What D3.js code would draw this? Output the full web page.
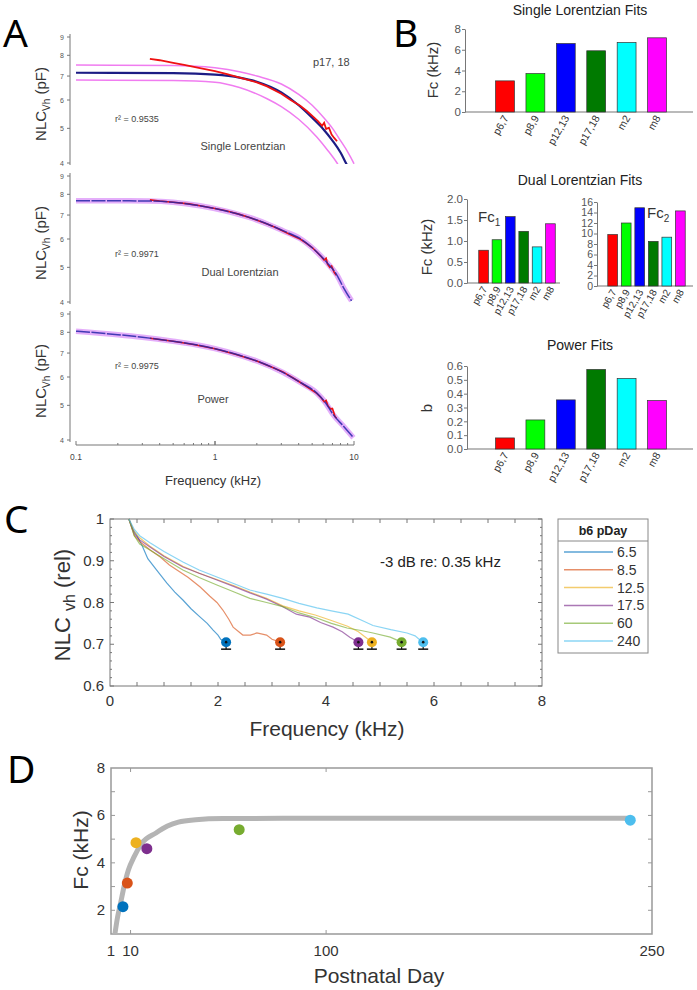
<!DOCTYPE html>
<html>
<head>
<meta charset="utf-8">
<script src="https://cdn.jsdelivr.net/npm/d3@7"></script>
<style>
body { margin: 0; background: #fff; }
svg { display: block; font-family: "Liberation Sans", Arial, sans-serif; }
</style>
</head>
<body>
<svg id="fig"></svg>
<script>
// ---------- Panel A: NLC (pF) vs frequency (kHz), p17,18 ----------
const aSingleFit = [[0.1,7.15],[0.5,7.13],[1,7.06],[1.5,6.93],[2,6.75],[3,6.3],[4,5.8],[5,5.35],[6,4.98],[7,4.62],[8,4.28],[8.75,4.0],[9.2,3.85]];
const aSingleUpper = [[0.1,7.51],[0.5,7.49],[1,7.38],[1.5,7.2],[2,7.0],[3,6.65],[4,6.22],[5,5.8],[6,5.38],[7,5.0],[8,4.62],[9,4.3],[9.85,4.03],[10,3.98]];
const aSingleLower = [[0.1,6.82],[0.5,6.8],[1,6.73],[1.5,6.5],[2.37,6.05],[3,5.75],[4,5.3],[5.4,4.73],[6.5,4.33],[7.55,4.0],[7.8,3.92]];
const aSingleData = [[0.34,7.82],[0.4,7.75],[0.5,7.62],[0.6,7.52],[0.78,7.37],[1,7.22],[1.22,7.09],[1.6,6.88],[2,6.72],[2.37,6.55],[3,6.25],[3.5,6.0],[4.1,5.78],[4.6,5.58],[5.1,5.38],[5.5,5.24],[5.9,5.08],[6.1,5.18],[6.3,4.98],[6.6,5.02],[6.9,4.8],[7.2,4.7],[7.55,4.6]];
const aDualFit = [[0.1,7.67],[0.2,7.67],[0.34,7.66],[0.5,7.6],[0.78,7.43],[1.2,7.18],[1.79,6.88],[2.4,6.6],[3.08,6.33],[4.09,6.02],[5.4,5.52],[6.4,5.15],[7.55,4.75],[8.5,4.35],[9.6,4.03]];
const aDualData = [[0.34,7.72],[0.4,7.66],[0.5,7.6],[0.65,7.52],[0.78,7.43],[1,7.3],[1.2,7.2],[1.5,7.03],[1.79,6.88],[2.1,6.73],[2.4,6.6],[2.7,6.47],[3.08,6.32],[3.5,6.17],[4.09,6.0],[4.5,5.85],[5,5.68],[5.4,5.52],[5.8,5.36],[6.1,5.24],[6.3,5.3],[6.45,5.1],[6.7,5.0],[6.9,5.04],[7.2,4.84],[7.45,4.75]];
const aPowerFit = [[0.1,8.06],[0.2,7.88],[0.3,7.75],[0.5,7.55],[0.78,7.35],[1,7.2],[1.5,6.9],[2,6.65],[3.08,6.18],[4.09,5.8],[5.4,5.41],[6.2,5.1],[7.06,4.72],[8.5,4.35],[9.9,4.06]];
const aPowerData = [[0.34,7.7],[0.5,7.55],[0.7,7.4],[1,7.2],[1.4,6.95],[2,6.65],[2.6,6.38],[3.08,6.2],[3.6,5.98],[4.09,5.8],[4.7,5.6],[5.4,5.4],[5.8,5.25],[6.1,5.12],[6.3,5.16],[6.5,4.98],[6.8,4.88],[7.0,4.9],[7.3,4.65],[7.5,4.6]];
const aYTicks = [4, 5, 6, 7, 8, 9];
const aXTicks = [0.1, 1, 10];

// ---------- Panel B: fit parameters per age group ----------
const groups = ["p6,7", "p8,9", "p12,13", "p17,18", "m2", "m8"];
const groupColors = ["#ff0000", "#00ff00", "#0000ff", "#007a00", "#00ffff", "#ff00ff"];
const singleFc = [3.0, 3.7, 6.6, 5.9, 6.7, 7.15];
const dualFc1 = [0.78, 1.03, 1.58, 1.23, 0.86, 1.41];
const dualFc2 = [9.8, 12.0, 14.9, 8.5, 9.3, 14.3];
const powerB = [0.08, 0.21, 0.355, 0.575, 0.51, 0.35];

// ---------- Panel C: normalised NLC vs frequency by postnatal day ----------
const pDays = ["6.5", "8.5", "12.5", "17.5", "60", "240"];
const dayColors = ["#0072BD", "#D95319", "#EDB120", "#7E2F8E", "#77AC30", "#4DBEEE"];
const curve65 = [[0.35,1],[0.42,0.975],[0.5,0.96],[0.6,0.935],[0.7,0.905],[0.85,0.88],[1.05,0.847],[1.2,0.825],[1.35,0.806],[1.5,0.785],[1.67,0.765],[1.8,0.75],[1.91,0.734],[2.0,0.722],[2.05,0.712],[2.1,0.708],[2.15,0.705]];
const curve85 = [[0.35,1],[0.45,0.96],[0.56,0.945],[0.75,0.925],[0.93,0.909],[1.1,0.89],[1.24,0.878],[1.45,0.86],[1.67,0.837],[1.85,0.815],[1.98,0.8],[2.09,0.782],[2.2,0.76],[2.28,0.741],[2.46,0.722],[2.6,0.722],[2.72,0.727],[2.9,0.722],[3.0,0.712],[3.15,0.705]];
const curve125 = [[0.35,1],[0.45,0.97],[0.55,0.955],[0.74,0.935],[1.0,0.912],[1.35,0.887],[1.65,0.87],[1.98,0.855],[2.3,0.84],[2.59,0.825],[2.9,0.81],[3.2,0.792],[3.5,0.78],[3.8,0.77],[4.1,0.757],[4.4,0.743],[4.6,0.73],[4.75,0.715],[4.85,0.705]];
const curve175 = [[0.35,1],[0.45,0.965],[0.55,0.95],[0.74,0.933],[1.0,0.91],[1.35,0.885],[1.65,0.87],[1.98,0.854],[2.3,0.838],[2.59,0.823],[2.9,0.808],[3.2,0.79],[3.45,0.772],[3.7,0.765],[3.9,0.752],[4.13,0.741],[4.3,0.73],[4.44,0.717],[4.6,0.705]];
const curve60 = [[0.35,1],[0.45,0.96],[0.55,0.94],[0.74,0.926],[1.0,0.905],[1.35,0.878],[1.65,0.86],[1.98,0.842],[2.3,0.825],[2.59,0.81],[2.9,0.8],[3.2,0.79],[3.5,0.775],[3.83,0.763],[4.1,0.75],[4.39,0.739],[4.65,0.733],[4.87,0.727],[5.19,0.717],[5.4,0.705]];
const curve240 = [[0.35,1],[0.45,0.975],[0.55,0.96],[0.74,0.943],[1.0,0.922],[1.35,0.897],[1.65,0.878],[1.98,0.861],[2.3,0.845],[2.59,0.83],[2.9,0.82],[3.2,0.81],[3.5,0.798],[3.83,0.787],[4.1,0.78],[4.41,0.772],[4.7,0.755],[4.87,0.745],[5.2,0.735],[5.5,0.727],[5.65,0.72],[5.74,0.71],[5.8,0.705]];
const dayCurves = [curve65, curve85, curve125, curve175, curve60, curve240];
const cutoffFc = [2.15, 3.15, 4.85, 4.6, 5.4, 5.8];
const cutoffLevel = 0.705;
const cXTicks = [0, 2, 4, 6, 8];
const cYTicks = [0.6, 0.7, 0.8, 0.9, 1];

// ---------- Panel D: cutoff vs postnatal day ----------
const dayValues = [6.5, 8.5, 12.5, 17.5, 60, 240];
const fitDays = [2.8, 4, 5.4, 7, 9, 11.6, 15, 21.7, 27, 32, 40, 52.6, 80, 150, 240];
const fitFc = [1.0, 1.7, 2.3, 3.0, 3.7, 4.25, 4.8, 5.26, 5.55, 5.72, 5.82, 5.87, 5.88, 5.88, 5.88];
const dXTicks = [1, 10, 100, 250];
const dYTicks = [2, 4, 6, 8];

const svg = d3.select("#fig").attr("width", 697).attr("height", 990);
svg.append("rect").attr("width", 697).attr("height", 990).attr("fill", "#fff");

function panelLetter(txt, x, y) {
    svg.append("text").attr("x", x).attr("y", y).text(txt)
        .attr("font-family", "'Noto Sans', sans-serif")
        .attr("font-size", 39).attr("fill", "#000");
}
panelLetter("A", 3, 47);
panelLetter("B", 393, 47);
panelLetter("C", 4, 533);
panelLetter("D", 7, 783);

// ================= Panel A =================
const xA = d3.scaleLog().domain([0.1, 10]).range([76, 354]);
const aPanels = [
    {top: 37, bottom: 163, r2: "0.9535", r2y: 122, name: "Single Lorentzian", nx: 243, ny: 150, kind: "single"},
    {top: 176, bottom: 302, r2: "0.9971", r2y: 257, name: "Dual Lorentzian", nx: 240, ny: 276, kind: "dual"},
    {top: 314, bottom: 440, r2: "0.9975", r2y: 369, name: "Power", nx: 213, ny: 403, kind: "power"}
];

aPanels.forEach((p, i) => {
    const y = d3.scaleLog().domain([4, 9]).range([p.bottom, p.top]);
    const g = svg.append("g");
    const clipId = "clipA" + i;
    svg.append("clipPath").attr("id", clipId).append("rect")
        .attr("x", 71).attr("y", p.top - 5).attr("width", 290).attr("height", p.bottom - p.top + 6);

    // y axis
    g.append("line").attr("x1", 70).attr("x2", 70).attr("y1", p.top - 3).attr("y2", p.bottom + 2)
        .attr("stroke", "#777").attr("stroke-width", 1);
    aYTicks.forEach(t => {
        g.append("line").attr("x1", 67).attr("x2", 70).attr("y1", y(t)).attr("y2", y(t)).attr("stroke", "#777");
        g.append("text").attr("x", 64).attr("y", y(t) + 2.5).attr("text-anchor", "end")
            .attr("font-size", 7).attr("fill", "#555").text(t);
    });

    const line = d3.line().x(d => xA(d[0])).y(d => y(d[1])).curve(d3.curveMonotoneX);
    const raw = d3.line().x(d => xA(d[0])).y(d => y(d[1]));
    const plot = g.append("g").attr("clip-path", `url(#${clipId})`);

    if (p.kind === "single") {
        [aSingleUpper, aSingleLower].forEach(s => plot.append("path").attr("d", line(s))
            .attr("fill", "none").attr("stroke", "#f07cf0").attr("stroke-width", 1.5));
        plot.append("path").attr("d", line(aSingleFit)).attr("fill", "none")
            .attr("stroke", "#1c1c84").attr("stroke-width", 2.2);
        plot.append("path").attr("d", raw(aSingleData)).attr("fill", "none")
            .attr("stroke", "#ee1111").attr("stroke-width", 1.8);
    } else {
        const fit = p.kind === "dual" ? aDualFit : aPowerFit;
        const dat = p.kind === "dual" ? aDualData : aPowerData;
        plot.append("path").attr("d", line(fit)).attr("fill", "none")
            .attr("stroke", "#d88cf8").attr("stroke-width", 5.5).attr("stroke-opacity", 0.7);
        plot.append("path").attr("d", raw(dat)).attr("fill", "none")
            .attr("stroke", "#ee1111").attr("stroke-width", 1.6);
        plot.append("path").attr("d", line(fit)).attr("fill", "none")
            .attr("stroke", "#2626a8").attr("stroke-width", 1.5).attr("stroke-opacity", 0.85)
            .attr("stroke-dasharray", "14,1.5");
    }

    g.append("text").attr("x", 115).attr("y", p.r2y).attr("font-size", 9).attr("fill", "#444")
        .text("r² = " + p.r2);
    g.append("text").attr("x", p.nx).attr("y", p.ny).attr("text-anchor", "middle")
        .attr("font-size", 11).attr("fill", "#444").text(p.name);

    // y label NLC_Vh (pF)
    const yl = g.append("text").attr("transform", `translate(46,${(p.top + p.bottom) / 2 + 4}) rotate(-90)`)
        .attr("text-anchor", "middle").attr("font-size", 15).attr("fill", "#333");
    yl.append("tspan").text("NLC");
    yl.append("tspan").attr("font-size", 10).attr("dy", 4).text("Vh");
    yl.append("tspan").attr("dy", -4).text(" (pF)");
});
svg.append("text").attr("x", 313).attr("y", 66).attr("font-size", 11).attr("fill", "#444").text("p17, 18");

// A x axis (bottom subplot)
const xAxisA = svg.append("g");
xAxisA.append("line").attr("x1", 76).attr("x2", 354).attr("y1", 445).attr("y2", 445).attr("stroke", "#777");
[0.1, 1].forEach(dec => {
    for (let k = 1; k <= 10; k++) {
        const v = dec * k;
        xAxisA.append("line").attr("x1", xA(v)).attr("x2", xA(v)).attr("y1", 445)
            .attr("y2", k === 1 || k === 10 ? 441 : 443).attr("stroke", "#777");
    }
});
aXTicks.forEach(t => xAxisA.append("text").attr("x", xA(t)).attr("y", 460).attr("text-anchor", "middle")
    .attr("font-size", 8.5).attr("fill", "#444").text(t));
svg.append("text").attr("x", 213).attr("y", 485).attr("text-anchor", "middle")
    .attr("font-size", 13).attr("fill", "#333").text("Frequency (kHz)");

// ================= Panel B =================
function barChart(opt) {
    const g = svg.append("g");
    const y = d3.scaleLinear().domain([0, opt.max]).range([opt.y0, opt.yTop]);
    const x = d3.scaleBand().domain(groups).range([opt.xa, opt.xb]).padding(opt.pad);

    const yAxis = d3.axisLeft(y).tickValues(opt.ticks).tickSize(3).tickSizeOuter(0).tickFormat(opt.fmt);
    const ya = g.append("g").attr("transform", `translate(${opt.axisX},0)`).call(yAxis);
    ya.select(".domain").attr("stroke", "#777");
    ya.selectAll(".tick line").attr("stroke", "#777");
    ya.selectAll(".tick text").attr("font-size", opt.tickFont).attr("fill", "#555")
        .attr("font-family", "'Liberation Sans', Arial, sans-serif").attr("x", -4);

    g.append("line").attr("x1", opt.axisX).attr("x2", opt.xEnd).attr("y1", opt.y0).attr("y2", opt.y0)
        .attr("stroke", "#777").attr("stroke-width", 1.2);

    g.selectAll("rect.bar").data(opt.values).join("rect").attr("class", "bar")
        .attr("x", (d, i) => x(groups[i]))
        .attr("width", x.bandwidth())
        .attr("y", d => y(d))
        .attr("height", d => opt.y0 - y(d))
        .attr("fill", (d, i) => groupColors[i])
        .attr("stroke", "#333").attr("stroke-width", 0.7);

    groups.forEach(gr => {
        g.append("text")
            .attr("transform", `translate(${x(gr) + x.bandwidth() / 2 + 4},${opt.y0 + 6}) rotate(-60)`)
            .attr("text-anchor", "end").attr("font-size", opt.labFont).attr("fill", "#333")
            .text(gr);
    });
    return g;
}

function bTitle(txt, x, y) {
    svg.append("text").attr("x", x).attr("y", y).attr("text-anchor", "middle")
        .attr("font-size", 14).attr("fill", "#222").text(txt);
}
function bYLabel(x, y, main) {
    svg.append("text").attr("transform", `translate(${x},${y}) rotate(-90)`)
        .attr("text-anchor", "middle").attr("font-size", 15).attr("fill", "#333").text(main);
}

bTitle("Single Lorentzian Fits", 580, 15);
barChart({values: singleFc, max: 8, ticks: [0, 2, 4, 6, 8], fmt: d3.format("d"), tickFont: 11.5, labFont: 10.5,
    axisX: 465, y0: 112, yTop: 29, xa: 484, xb: 678, pad: 0.38, xEnd: 693});
bYLabel(438, 70, "Fc (kHz)");

bTitle("Dual Lorentzian Fits", 580, 185);
barChart({values: dualFc1, max: 2, ticks: [0, 0.5, 1, 1.5, 2], fmt: d3.format(".1f"), tickFont: 11.5, labFont: 10,
    axisX: 467, y0: 283, yTop: 199, xa: 475, xb: 559, pad: 0.28, xEnd: 560});
barChart({values: dualFc2, max: 16, ticks: [0, 2, 4, 6, 8, 10, 12, 14, 16], fmt: d3.format("d"), tickFont: 10.5, labFont: 10,
    axisX: 597, y0: 286, yTop: 202, xa: 604, xb: 689, pad: 0.28, xEnd: 693});
bYLabel(432, 247, "Fc (kHz)");
function fcSub(x, y, n) {
    const t = svg.append("text").attr("x", x).attr("y", y).attr("font-size", 15).attr("fill", "#333");
    t.append("tspan").text("Fc");
    t.append("tspan").attr("font-size", 10).attr("dy", 4).text(n);
}
fcSub(478, 222, "1");
fcSub(647, 218, "2");

bTitle("Power Fits", 580, 350);
barChart({values: powerB, max: 0.6, ticks: [0, 0.1, 0.2, 0.3, 0.4, 0.5, 0.6], fmt: d3.format(".1f"), tickFont: 11.5, labFont: 10.5,
    axisX: 467, y0: 449, yTop: 366, xa: 484, xb: 678, pad: 0.38, xEnd: 693});
bYLabel(432, 408, "b");

// ================= Panel C =================
const xC = d3.scaleLinear().domain([0, 8]).range([110, 542]);
const yC = d3.scaleLinear().domain([0.6, 1]).range([686, 519]);
const gC = svg.append("g");
gC.append("rect").attr("x", 110).attr("y", 519).attr("width", 432).attr("height", 167)
    .attr("fill", "none").attr("stroke", "#777").attr("stroke-width", 1);
// inside ticks on all sides
d3.range(0.5, 8, 0.5).forEach(v => {
    gC.append("line").attr("x1", xC(v)).attr("x2", xC(v)).attr("y1", 686).attr("y2", 682).attr("stroke", "#777");
    gC.append("line").attr("x1", xC(v)).attr("x2", xC(v)).attr("y1", 519).attr("y2", 523).attr("stroke", "#777");
});
d3.range(0, 21).forEach(k => {
    const v = 0.6 + k * 0.02;
    const len = k % 5 === 0 ? 4 : 2;
    gC.append("line").attr("x1", 110).attr("x2", 110 + len).attr("y1", yC(v)).attr("y2", yC(v)).attr("stroke", "#777");
    gC.append("line").attr("x1", 542).attr("x2", 542 - len).attr("y1", yC(v)).attr("y2", yC(v)).attr("stroke", "#777");
});
cXTicks.forEach(t => gC.append("text").attr("x", xC(t)).attr("y", 706).attr("text-anchor", "middle")
    .attr("font-size", 15).attr("fill", "#333").text(t));
cYTicks.forEach(t => gC.append("text").attr("x", 104).attr("y", yC(t) + 5).attr("text-anchor", "end")
    .attr("font-size", 15).attr("fill", "#333").text(t));

const lineC = d3.line().x(d => xC(d[0])).y(d => yC(d[1]));
dayCurves.forEach((c, i) => gC.append("path").attr("d", lineC(c)).attr("fill", "none")
    .attr("stroke", dayColors[i]).attr("stroke-width", 1.2).attr("stroke-opacity", 0.65));

cutoffFc.forEach((f, i) => {
    const cx = xC(f), cy = yC(cutoffLevel);
    gC.append("line").attr("x1", cx).attr("x2", cx).attr("y1", cy).attr("y2", cy + 7).attr("stroke", "#111").attr("stroke-width", 1.2);
    gC.append("line").attr("x1", cx - 5).attr("x2", cx + 5).attr("y1", cy + 7).attr("y2", cy + 7).attr("stroke", "#111").attr("stroke-width", 1.5);
    gC.append("circle").attr("cx", cx).attr("cy", cy).attr("r", 5).attr("fill", dayColors[i]);
    gC.append("circle").attr("cx", cx).attr("cy", cy).attr("r", 1.3).attr("fill", "#111");
});

gC.append("text").attr("x", 380).attr("y", 567).attr("font-size", 15).attr("fill", "#222").text("-3 dB re: 0.35 kHz");
gC.append("text").attr("x", 327).attr("y", 736).attr("text-anchor", "middle")
    .attr("font-size", 21).attr("fill", "#333").text("Frequency (kHz)");
const ylC = gC.append("text").attr("transform", "translate(70,605) rotate(-90)")
    .attr("text-anchor", "middle").attr("font-size", 22).attr("fill", "#333");
ylC.append("tspan").text("NLC ");
ylC.append("tspan").attr("font-size", 16).attr("dy", 5).text("vh");
ylC.append("tspan").attr("dy", -5).text(" (rel)");

// legend
const leg = svg.append("g");
leg.append("rect").attr("x", 558).attr("y", 519).attr("width", 90).attr("height", 134)
    .attr("fill", "#fff").attr("stroke", "#888");
leg.append("line").attr("x1", 558).attr("x2", 648).attr("y1", 541).attr("y2", 541).attr("stroke", "#888");
leg.append("text").attr("x", 603).attr("y", 535).attr("text-anchor", "middle")
    .attr("font-size", 12.5).attr("font-weight", "bold").attr("fill", "#222").text("b6 pDay");
pDays.forEach((d, i) => {
    const yy = 552 + i * 17.8;
    leg.append("line").attr("x1", 564).attr("x2", 613).attr("y1", yy).attr("y2", yy)
        .attr("stroke", dayColors[i]).attr("stroke-width", 1.5).attr("stroke-opacity", 0.65);
    leg.append("text").attr("x", 617).attr("y", yy + 5).attr("font-size", 14).attr("fill", "#333").text(d);
});

// ================= Panel D =================
const xD = d3.scaleLinear().domain([1, 250]).range([111, 652]);
const yD = d3.scaleLinear().domain([1, 8]).range([934, 768]);
const gD = svg.append("g");
gD.append("rect").attr("x", 111).attr("y", 768).attr("width", 541).attr("height", 166)
    .attr("fill", "none").attr("stroke", "#999").attr("stroke-width", 1.5);
d3.range(2, 8).forEach(v => {
    gD.append("line").attr("x1", 111).attr("x2", 115).attr("y1", yD(v)).attr("y2", yD(v)).attr("stroke", "#999");
    gD.append("line").attr("x1", 652).attr("x2", 648).attr("y1", yD(v)).attr("y2", yD(v)).attr("stroke", "#999");
});
[10, 100].forEach(v => {
    gD.append("line").attr("x1", xD(v)).attr("x2", xD(v)).attr("y1", 934).attr("y2", 930).attr("stroke", "#999");
    gD.append("line").attr("x1", xD(v)).attr("x2", xD(v)).attr("y1", 768).attr("y2", 772).attr("stroke", "#999");
});
dXTicks.forEach(t => gD.append("text").attr("x", xD(t)).attr("y", 956).attr("text-anchor", "middle")
    .attr("font-size", 15).attr("fill", "#333").text(t));
dYTicks.forEach(t => gD.append("text").attr("x", 105).attr("y", yD(t) + 5).attr("text-anchor", "end")
    .attr("font-size", 15).attr("fill", "#333").text(t));

const fitLine = d3.line().x((d, i) => xD(fitDays[i])).y(d => yD(d)).curve(d3.curveMonotoneX);
gD.append("path").attr("d", fitLine(fitFc)).attr("fill", "none")
    .attr("stroke", "#b4b4b4").attr("stroke-width", 5);
dayValues.forEach((d, i) => gD.append("circle").attr("cx", xD(d)).attr("cy", yD(cutoffFc[i]))
    .attr("r", 5.5).attr("fill", dayColors[i]));

gD.append("text").attr("x", 379).attr("y", 983).attr("text-anchor", "middle")
    .attr("font-size", 21).attr("fill", "#333").text("Postnatal Day");
gD.append("text").attr("transform", "translate(88,850) rotate(-90)").attr("text-anchor", "middle")
    .attr("font-size", 21).attr("fill", "#333").text("Fc (kHz)");
</script>
</body>
</html>
